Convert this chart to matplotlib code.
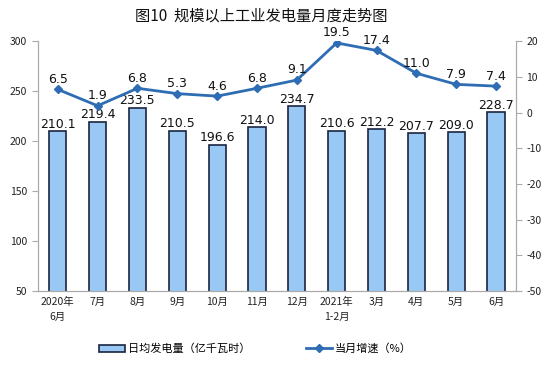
import numpy as np
from matplotlib import pyplot as plt

plt.rcParams['font.family'] = ['Noto Sans CJK SC', 'DejaVu Sans']
plt.rcParams['axes.unicode_minus'] = False

# months on the x axis
months = ['2020年\n6月', '7月', '8月', '9月', '10月', '11月', '12月',
          '2021年\n1-2月', '3月', '4月', '5月', '6月']

# daily average generation (100 million kWh)
daily_gen = [210.1, 219.4, 233.5, 210.5, 196.6, 214.0, 234.7,
             210.6, 212.2, 207.7, 209.0, 228.7]

# year-on-year growth (%)
growth = [6.5, 1.9, 6.8, 5.3, 4.6, 6.8, 9.1, 19.5, 17.4, 11.0, 7.9, 7.4]

bar_color = '#99C8F5'
edge_color = '#1A2540'
line_color = '#2E6DB4'

fig = plt.figure(figsize=(5.56, 3.81), dpi=100)
ax = fig.add_axes([0.068, 0.236, 0.86, 0.656])
ax2 = ax.twinx()

x = np.arange(len(months))

# bars on the left axis
ax.bar(x, daily_gen, width=0.43, color=bar_color, edgecolor=edge_color,
       linewidth=1.2, label='日均发电量（亿千瓦时）', zorder=2)
for xi, v in zip(x, daily_gen):
    ax.text(xi, v + 0.3, f'{v:.1f}', ha='center', va='bottom', fontsize=9,
            family='DejaVu Sans', color='#111111')

ax.set_ylim(50, 300)
ax.set_yticks([50, 100, 150, 200, 250, 300])
ax.set_xlim(-0.5, len(months) - 0.5)
ax.set_xticks(x)
ax.set_xticklabels(months, fontsize=7.5, linespacing=1.6)

# growth line on the right axis
ax2.plot(x, growth, color=line_color, lw=2, marker='D', ms=4,
         label='当月增速（%）', zorder=3)
for xi, v in zip(x, growth):
    ax2.text(xi, v + 1.0, f'{v:.1f}', ha='center', va='bottom', fontsize=9,
             family='DejaVu Sans', color='#111111')
ax2.set_ylim(-50, 20)
ax2.set_yticks([-50, -40, -30, -20, -10, 0, 10, 20])

for a in (ax, ax2):
    a.spines['top'].set_visible(False)
    a.tick_params(axis='y', labelsize=7.5, length=4, color='#AAAAAA', colors='#222222')
    a.spines['left'].set_color('#AAAAAA')
    a.spines['right'].set_color('#AAAAAA')
    a.spines['bottom'].set_color('#AAAAAA')
ax.tick_params(axis='x', length=0, pad=4, colors='#222222')

fig.text(0.47, 0.957, '图10  规模以上工业发电量月度走势图', ha='center', va='center',
         fontsize=11, color='#111111')

# legend below the plot
h1, l1 = ax.get_legend_handles_labels()
h2, l2 = ax2.get_legend_handles_labels()
fig.legend(h1 + h2, l1 + l2, loc='center', bbox_to_anchor=(0.46, 0.085), ncol=2,
           frameon=False, fontsize=8, handlelength=2.3, handleheight=0.6,
           columnspacing=5, handletextpad=0.3)

fig.savefig('out.png', dpi=100)
